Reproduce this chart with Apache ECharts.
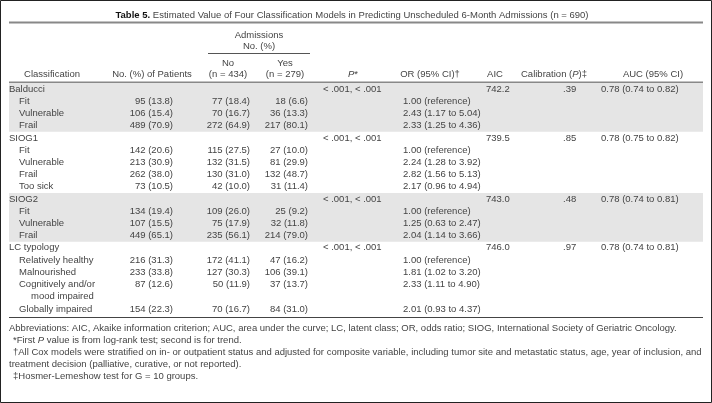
<!DOCTYPE html>
<html>
<head>
<meta charset="utf-8">
<script src="https://cdn.jsdelivr.net/npm/echarts@6/dist/echarts.min.js"></script>
<style>
  html, body { margin: 0; padding: 0; background: #fff; }
  #main { width: 712px; height: 403px; }
</style>
</head>
<body>
<div id="main"></div>
<script>
// table data
const groups = ['Balducci', 'SIOG1', 'SIOG2', 'LC typology'];
const pValues = ['< .001, < .001', '< .001, < .001', '< .001, < .001', '< .001, < .001'];
const aic = ['742.2', '739.5', '743.0', '746.0'];
const calibration = ['.39', '.85', '.48', '.97'];
const auc = ['0.78 (0.74 to 0.82)', '0.78 (0.75 to 0.82)', '0.78 (0.74 to 0.81)', '0.78 (0.74 to 0.81)'];
const shaded = [true, false, true, false];

const categories = [
  ['Fit', 'Vulnerable', 'Frail'],
  ['Fit', 'Vulnerable', 'Frail', 'Too sick'],
  ['Fit', 'Vulnerable', 'Frail'],
  ['Relatively healthy', 'Malnourished', 'Cognitively and/or\nmood impaired', 'Globally impaired']
];
const patients = [[95, 106, 489], [142, 213, 262, 73], [134, 107, 449], [216, 233, 87, 154]];
const patientsPct = [[13.8, 15.4, 70.9], [20.6, 30.9, 38.0, 10.5], [19.4, 15.5, 65.1], [31.3, 33.8, 12.6, 22.3]];
const admNo = [[77, 70, 272], [115, 132, 130, 42], [109, 75, 235], [172, 127, 50, 70]];
const admNoPct = [[18.4, 16.7, 64.9], [27.5, 31.5, 31.0, 10.0], [26.0, 17.9, 56.1], [41.1, 30.3, 11.9, 16.7]];
const admYes = [[18, 36, 217], [27, 81, 132, 31], [25, 32, 214], [47, 106, 37, 84]];
const admYesPct = [[6.6, 13.3, 80.1], [10.0, 29.9, 48.7, 11.4], [9.2, 11.8, 79.0], [16.2, 39.1, 13.7, 31.0]];
const orValue = [[1.00, 2.43, 2.33], [1.00, 2.24, 2.82, 2.17], [1.00, 1.25, 2.04], [1.00, 1.81, 2.33, 2.01]];
const orLow = [[null, 1.17, 1.25], [null, 1.28, 1.56, 0.96], [null, 0.63, 1.14], [null, 1.02, 1.11, 0.93]];
const orHigh = [[null, 5.04, 4.36], [null, 3.92, 5.13, 4.94], [null, 2.47, 3.66], [null, 3.20, 4.90, 4.37]];

const footnotes = [
  'Abbreviations: AIC, Akaike information criterion; AUC, area under the curve; LC, latent class; OR, odds ratio; SIOG, International Society of Geriatric Oncology.',
  '*First {i|P} value is from log-rank test; second is for trend.',
  '\u2020All Cox models were stratified on in- or outpatient status and adjusted for composite variable, including tumor site and metastatic status, age, year of inclusion, and',
  'treatment decision (palliative, curative, or not reported).',
  '\u2021Hosmer-Lemeshow test for G = 10 groups.'
];

// layout
const FONT_FAMILY = '"Liberation Sans", Arial, sans-serif';
const FS = 9.5;
const TXT = '#444';
const col = {
  label: [9, 19, 31], patients: 173, no: 250, yes: 308,
  p: 323, or: 403, aic: 486, cal: 563, auc: 601
};

const pct = (n, p) => n + ' (' + p.toFixed(1) + ')';

// flatten the table into lines
const rows = [];
const bands = [];
groups.forEach((g, gi) => {
  const start = rows.length;
  rows.push({ label: g, indent: 0, p: pValues[gi], aic: aic[gi], cal: calibration[gi], auc: auc[gi] });
  categories[gi].forEach((c, ci) => {
    const parts = c.split('\n');
    const or = orLow[gi][ci] == null
      ? orValue[gi][ci].toFixed(2) + ' (reference)'
      : orValue[gi][ci].toFixed(2) + ' (' + orLow[gi][ci].toFixed(2) + ' to ' + orHigh[gi][ci].toFixed(2) + ')';
    rows.push({
      label: parts[0], indent: 1,
      patients: pct(patients[gi][ci], patientsPct[gi][ci]),
      no: pct(admNo[gi][ci], admNoPct[gi][ci]),
      yes: pct(admYes[gi][ci], admYesPct[gi][ci]),
      or: or
    });
    for (let k = 1; k < parts.length; k++) rows.push({ label: parts[k], indent: 2 });
  });
  if (shaded[gi]) bands.push([start, rows.length - 1]);
});

function txt(x, y, text, align, extra) {
  return {
    type: 'text', x: x, y: y, silent: true,
    style: Object.assign({
      text: text, fill: TXT, font: FS + 'px ' + FONT_FAMILY,
      align: align || 'left', verticalAlign: 'middle',
      rich: {
        i: { fontStyle: 'italic', fontSize: FS, fontFamily: FONT_FAMILY, fill: TXT },
        b: { fontWeight: 'bold', fontSize: FS, fontFamily: FONT_FAMILY, fill: '#111' }
      }
    }, extra || {})
  };
}
function hline(x1, x2, y, color, w) {
  return { type: 'line', silent: true, shape: { x1: x1, y1: y, x2: x2, y2: y }, style: { stroke: color, lineWidth: w } };
}

const chart = echarts.init(document.getElementById('main'));
chart.setOption({
  animation: false,
  grid: { left: 0, right: 0, top: 83, height: 232 },
  xAxis: { type: 'value', min: 0, max: 712, show: false },
  yAxis: { type: 'category', inverse: true, data: rows.map((r, i) => i), show: false },
  graphic: [
    { type: 'rect', silent: true, shape: { x: 0.5, y: 0.5, width: 711, height: 402 }, style: { fill: null, stroke: '#222', lineWidth: 1 } },
    txt(352, 15, '{b|Table 5.} Estimated Value of Four Classification Models in Predicting Unscheduled 6-Month Admissions (n = 690)', 'center'),
    hline(9, 703, 22.5, '#888', 2),
    txt(259, 35, 'Admissions', 'center'),
    txt(259, 46, 'No. (%)', 'center'),
    hline(208, 310, 53.5, '#555', 1),
    txt(228, 63, 'No', 'center'),
    txt(285, 63, 'Yes', 'center'),
    txt(52, 74, 'Classification', 'center'),
    txt(152, 74, 'No. (%) of Patients', 'center'),
    txt(228, 74, '(n = 434)', 'center'),
    txt(285, 74, '(n = 279)', 'center'),
    txt(353, 74, '{i|P}*', 'center'),
    txt(430, 74, 'OR (95% CI)\u2020', 'center'),
    txt(495, 74, 'AIC', 'center'),
    txt(554, 74, 'Calibration ({i|P})\u2021', 'center'),
    txt(653, 74, 'AUC (95% CI)', 'center'),
    hline(9, 703, 82.5, '#888', 2),
    hline(9, 703, 317.5, '#444', 1),
    txt(9, 328, footnotes[0]),
    txt(13, 340, footnotes[1]),
    txt(13, 352, footnotes[2]),
    txt(9, 364, footnotes[3]),
    txt(13, 376, footnotes[4])
  ],
  series: [
    {
      type: 'custom',
      silent: true,
      clip: false,
      z: 1,
      data: bands,
      renderItem: function (params, api) {
        const top = api.coord([0, api.value(0)]);
        const bot = api.coord([0, api.value(1)]);
        const h = api.size([0, 1])[1];
        return {
          type: 'rect',
          shape: { x: 9, y: top[1] - h / 2, width: 694, height: bot[1] - top[1] + h },
          style: { fill: '#e5e5e5' }
        };
      }
    },
    {
      type: 'custom',
      silent: true,
      clip: false,
      z: 2,
      data: rows.map((r, i) => [0, i]),
      encode: { x: 0, y: 1 },
      renderItem: function (params, api) {
        const i = api.value(1);
        const r = rows[i];
        const y = api.coord([0, i])[1];
        const X = v => api.coord([v, i])[0];
        const kids = [txt(X(col.label[r.indent]), y, r.label)];
        if (r.patients) kids.push(txt(X(col.patients), y, r.patients, 'right'));
        if (r.no) kids.push(txt(X(col.no), y, r.no, 'right'));
        if (r.yes) kids.push(txt(X(col.yes), y, r.yes, 'right'));
        if (r.p) kids.push(txt(X(col.p), y, r.p));
        if (r.or) kids.push(txt(X(col.or), y, r.or));
        if (r.aic) kids.push(txt(X(col.aic), y, r.aic));
        if (r.cal) kids.push(txt(X(col.cal), y, r.cal));
        if (r.auc) kids.push(txt(X(col.auc), y, r.auc));
        return { type: 'group', children: kids };
      }
    }
  ]
});
</script>
</body>
</html>
